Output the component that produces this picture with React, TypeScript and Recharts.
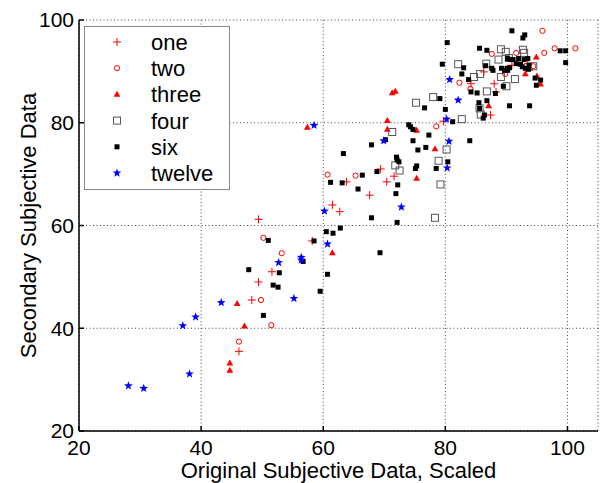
import React from 'react';
import { ScatterChart, Scatter, XAxis, YAxis, CartesianGrid, Legend } from 'recharts';

const xTicks = [20, 40, 60, 80, 100];
const yTicks = [20, 40, 60, 80, 100];
const xLabel = 'Original Subjective Data, Scaled';
const yLabel = 'Secondary Subjective Data';

const oneData: [number, number][] = [
  [49.4, 61.2], [51.6, 51.0], [49.4, 49.0], [48.3, 45.5], [46.2, 35.5], [58.2, 57.0], [61.5, 64.0],
  [62.7, 62.7], [63.8, 68.5], [67.6, 65.9], [69.4, 71.0], [70.4, 68.5], [71.6, 69.6], [79.7, 80.3],
  [87.4, 81.5], [88.3, 86.0], [84.2, 87.6], [88.0, 87.6], [86.3, 89.9], [90.9, 91.2], [93.5, 91.5],
];
const twoData: [number, number][] = [
  [50.2, 57.6], [49.8, 45.5], [51.5, 40.6], [46.2, 37.4], [53.2, 54.6], [60.7, 69.9], [65.3, 69.7],
  [78.5, 79.3], [84.1, 86.6], [82.3, 87.8], [89.8, 89.5], [87.6, 93.4], [91.6, 93.6], [96.2, 93.6],
  [95.9, 97.9], [97.9, 94.5], [101.3, 94.5], [94.4, 91.0],
];
const threeData: [number, number][] = [
  [45.9, 44.8], [47.1, 40.4], [44.7, 33.2], [44.7, 31.8], [61.5, 54.7], [57.4, 79.1], [70.5, 80.4],
  [70.5, 78.7], [75.3, 78.5], [78.3, 74.9], [75.3, 69.2], [71.3, 85.8], [71.8, 86.1], [87.1, 83.3],
  [93.1, 89.5], [95.0, 89.1], [95.6, 87.5], [94.9, 92.8], [93.8, 90.6],
];
const fourData: [number, number][] = [
  [75.2, 83.9], [71.3, 78.2], [78.9, 72.6], [71.8, 71.7], [72.5, 70.7], [79.2, 68.0], [78.3, 61.5],
  [80.2, 74.8], [78.0, 85.0], [82.7, 80.7], [85.6, 82.8], [85.8, 81.6], [86.8, 86.1], [90.0, 87.1],
  [84.7, 88.9], [85.7, 89.5], [89.1, 88.9], [91.4, 88.5], [82.1, 91.4], [86.7, 91.5], [88.7, 92.3],
  [89.1, 94.3], [89.9, 93.8], [92.7, 94.2], [92.9, 93.6], [94.4, 91.0], [90.4, 92.6],
];
const sixData: [number, number][] = [
  [47.8, 51.4], [51.0, 57.1], [52.8, 50.8], [51.8, 48.4], [52.6, 48.0], [50.2, 42.5], [56.7, 53.0],
  [60.7, 50.5], [59.5, 47.2], [58.5, 57.0], [60.5, 58.8], [61.6, 58.5], [62.8, 59.5], [69.3, 54.7],
  [67.9, 61.5], [72.1, 60.6], [65.7, 67.1], [71.9, 66.2], [72.2, 67.9], [61.2, 68.4], [63.1, 68.3],
  [66.4, 69.8], [68.8, 70.5], [75.1, 71.1], [75.3, 71.6], [78.5, 71.1], [72.0, 73.3], [72.1, 72.8],
  [72.4, 72.4], [80.4, 72.4], [63.3, 74.0], [75.5, 74.7], [76.8, 75.2], [67.9, 75.7], [70.2, 76.7],
  [74.7, 76.5], [77.3, 77.6], [74.7, 78.7], [74.0, 79.6], [74.3, 79.2], [84.0, 76.5], [76.6, 82.9],
  [80.0, 82.6], [81.2, 80.2], [79.1, 84.7], [79.5, 91.4], [80.3, 95.6], [83.0, 90.7], [82.7, 89.5],
  [83.8, 88.4], [84.2, 86.0], [85.2, 85.8], [85.5, 83.9], [86.8, 84.3], [85.6, 82.8], [86.4, 81.5],
  [86.2, 80.9], [88.2, 85.7], [89.5, 87.1], [90.5, 83.3], [93.8, 83.3], [85.6, 94.5], [86.8, 94.1],
  [90.9, 97.9], [93.0, 97.1], [92.7, 96.5], [99.7, 94.0], [98.8, 94.0], [99.7, 91.7], [90.2, 92.5],
  [90.7, 92.3], [91.1, 92.3], [92.0, 92.5], [92.9, 92.3], [93.5, 92.5], [86.6, 91.1], [87.6, 90.6],
  [87.8, 90.2], [89.2, 90.6], [89.7, 90.2], [90.1, 90.6], [91.6, 91.5], [92.3, 91.4], [92.6, 90.9],
  [93.1, 90.6], [93.7, 91.2], [90.5, 90.7], [90.2, 90.2], [93.6, 90.4], [94.7, 88.7], [95.6, 88.3],
  [94.9, 87.3],
];
const twelveData: [number, number][] = [
  [28.1, 28.8], [30.6, 28.3], [38.1, 31.1], [37.0, 40.5], [39.1, 42.2], [43.3, 45.0], [52.7, 52.8],
  [55.2, 45.8], [56.4, 53.8], [56.4, 53.3], [60.7, 56.4], [60.2, 62.8], [58.5, 79.5], [69.9, 76.5],
  [72.8, 63.6], [80.3, 71.2], [80.6, 76.4], [80.2, 80.7], [82.1, 84.4], [80.7, 88.4],
];

const FONT = '"Liberation Sans", Arial, Helvetica, sans-serif';
const FS = 21;
const LFS = 22;

type Kind = 'plus' | 'circle' | 'triangle' | 'square' | 'dot' | 'star';

const series: { name: string; kind: Kind; data: [number, number][] }[] = [
  { name: 'one', kind: 'plus', data: oneData },
  { name: 'two', kind: 'circle', data: twoData },
  { name: 'three', kind: 'triangle', data: threeData },
  { name: 'four', kind: 'square', data: fourData },
  { name: 'six', kind: 'dot', data: sixData },
  { name: 'twelve', kind: 'star', data: twelveData },
];

function starPoints(cx: number, cy: number, ro: number, ri: number) {
  const pts: string[] = [];
  for (let i = 0; i < 10; i++) {
    const r = i % 2 === 0 ? ro : ri;
    const a = -Math.PI / 2 + (i * Math.PI) / 5;
    pts.push(`${cx + r * Math.cos(a)},${cy + r * Math.sin(a)}`);
  }
  return pts.join(' ');
}

function Marker({ kind, cx, cy }: { kind: Kind; cx: number; cy: number }) {
  if (cx == null || cy == null || isNaN(cx) || isNaN(cy)) return null;
  switch (kind) {
    case 'plus':
      return (
        <g stroke="#ff0000" strokeWidth={1}>
          <line x1={cx - 4} x2={cx + 4} y1={cy} y2={cy} />
          <line x1={cx} x2={cx} y1={cy - 4} y2={cy + 4} />
        </g>
      );
    case 'circle':
      return <circle cx={cx} cy={cy} r={2.6} fill="none" stroke="#ff0000" strokeWidth={1} />;
    case 'triangle':
      return (
        <polygon
          points={`${cx},${cy - 3.6} ${cx + 3.4},${cy + 2.4} ${cx - 3.4},${cy + 2.4}`}
          fill="#ff0000"
        />
      );
    case 'square':
      return <rect x={cx - 3.5} y={cy - 3.5} width={7} height={7} fill="none" stroke="#555" strokeWidth={1} />;
    case 'dot':
      return <rect x={cx - 2.5} y={cy - 2.5} width={5} height={5} fill="#000" />;
    case 'star':
      return <polygon points={starPoints(cx, cy, 4.6, 1.9)} fill="#0000ff" />;
  }
  return null;
}

function LegendBox() {
  return (
    <svg width={146} height={164} style={{ display: 'block' }}>
      <rect x={0.5} y={0.5} width={145} height={163} fill="#fff" stroke="#888" strokeWidth={1} />
      {series.map((s, i) => {
        const cy = 16 + i * 26.2;
        return (
          <g key={s.name}>
            <Marker kind={s.kind} cx={33} cy={cy} />
            <text x={67} y={cy} dy="0.36em" fontSize={22} fontFamily={FONT} fill="#000">
              {s.name}
            </text>
          </g>
        );
      })}
    </svg>
  );
}

export default function App() {
  const rows = series.map((s) => ({ ...s, points: s.data.map(([x, y]) => ({ x, y })) }));
  return (
    <div style={{ position: 'absolute', left: 0, top: 0, width: 600, height: 483, background: '#fff' }}>
      <ScatterChart width={600} height={483} margin={{ top: 20, right: 2, bottom: 0, left: 0 }}>
        <CartesianGrid stroke="#333" strokeDasharray="1 2.5" strokeWidth={0.9} />
        <XAxis
          type="number"
          dataKey="x"
          domain={[20, 105]}
          ticks={xTicks}
          height={52}
          stroke="#000"
          axisLine={{ stroke: '#000', strokeWidth: 1.5 }}
          tickLine={{ stroke: '#000', strokeWidth: 1.5 }}
          tickSize={-5}
          tickMargin={14}
          tick={{ fontSize: FS, fontFamily: FONT, fill: '#000' }}
          label={{ value: xLabel, position: 'insideBottom', offset: 5, fontSize: LFS, fontFamily: FONT, fill: '#000' }}
          allowDataOverflow
        />
        <XAxis
          xAxisId="top"
          orientation="top"
          type="number"
          domain={[20, 105]}
          ticks={xTicks}
          height={0}
          axisLine={{ stroke: '#000', strokeWidth: 1.5 }}
          tickLine={{ stroke: '#000', strokeWidth: 1.5 }}
          tickSize={-5}
          tick={false}
        />
        <YAxis
          type="number"
          dataKey="y"
          domain={[20, 100]}
          ticks={yTicks}
          width={79}
          axisLine={{ stroke: '#000', strokeWidth: 1.5 }}
          tickLine={{ stroke: '#000', strokeWidth: 1.5 }}
          tickSize={-5}
          tickMargin={10}
          tick={{ fontSize: FS, fontFamily: FONT, fill: '#000' }}
          label={{ value: yLabel, position: 'center', angle: -90, dx: -11.5, fontSize: LFS, fontFamily: FONT, fill: '#000' }}
          allowDataOverflow
        />
        <YAxis
          yAxisId="right"
          orientation="right"
          type="number"
          domain={[20, 100]}
          ticks={yTicks}
          width={0}
          axisLine={{ stroke: '#000', strokeWidth: 1.5 }}
          tickLine={{ stroke: '#000', strokeWidth: 1.5 }}
          tickSize={-5}
          tick={false}
        />
        {rows.map((s) => (
          <Scatter
            key={s.name}
            name={s.name}
            data={s.points}
            isAnimationActive={false}
            shape={(p: any) => <Marker kind={s.kind} cx={p.cx} cy={p.cy} />}
          />
        ))}
        <Legend
          layout="vertical"
          align="center"
          verticalAlign="middle"
          wrapperStyle={{ left: 84, top: 26, width: 146, height: 164 }}
          content={() => <LegendBox />}
        />
      </ScatterChart>
    </div>
  );
}
